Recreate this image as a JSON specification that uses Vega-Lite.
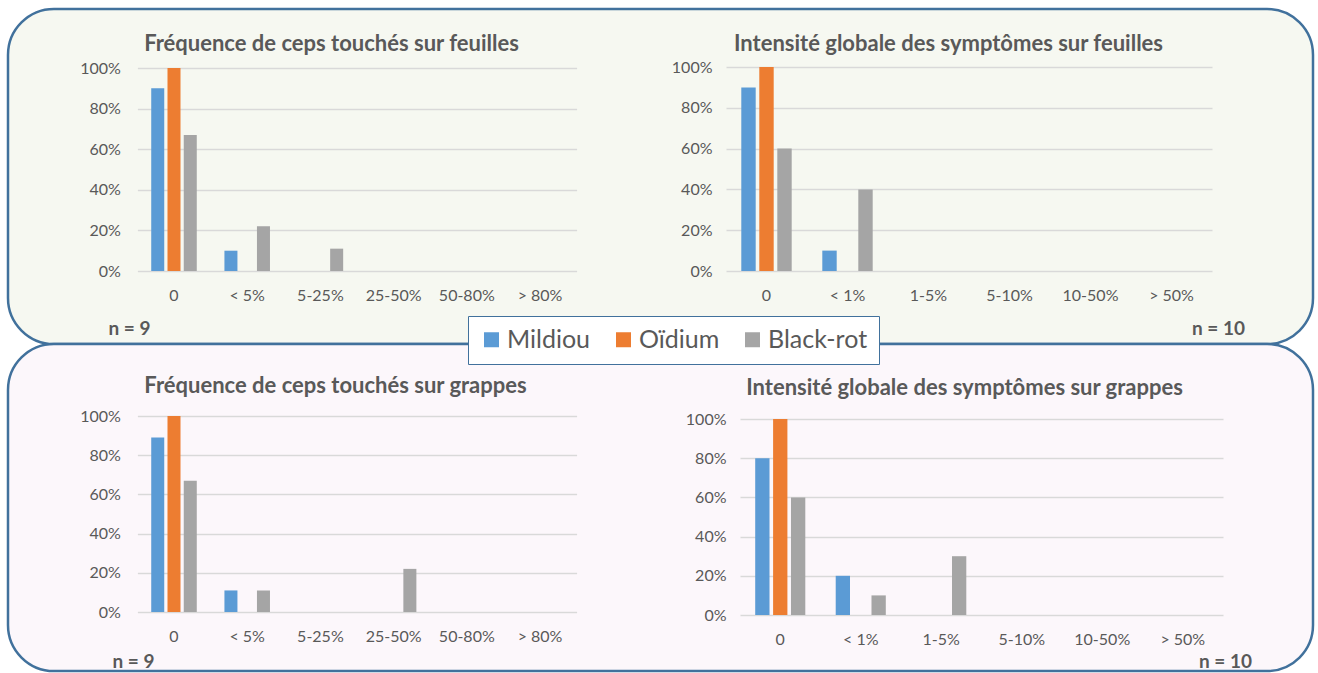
{
  "$schema": "https://vega.github.io/schema/vega-lite/v6.json",
  "background": "white",
  "padding": {"left": 6, "top": 7, "right": 4, "bottom": 0},
  "spacing": 0,
  "bounds": "flush",
  "config": {
    "font": "Lato",
    "axis": {"labelFont": "Lato", "labelColor": "#595959", "labelFontSize": 16, "titleFont": "Lato", "titleColor": "#595959", "ticks": false, "domain": false, "gridColor": "#D9D9D9", "gridWidth": 1.3},
    "bar": {"cornerRadius": 0}
  },
  "data": {"values": [
    {"panel": "p1", "cat": "0", "disease": "Mildiou", "value": 0.9},
    {"panel": "p1", "cat": "< 5%", "disease": "Mildiou", "value": 0.1},
    {"panel": "p1", "cat": "0", "disease": "Oïdium", "value": 1.0},
    {"panel": "p1", "cat": "0", "disease": "Black-rot", "value": 0.67},
    {"panel": "p1", "cat": "< 5%", "disease": "Black-rot", "value": 0.22},
    {"panel": "p1", "cat": "5-25%", "disease": "Black-rot", "value": 0.11},
    {"panel": "p2", "cat": "0", "disease": "Mildiou", "value": 0.9},
    {"panel": "p2", "cat": "< 1%", "disease": "Mildiou", "value": 0.1},
    {"panel": "p2", "cat": "0", "disease": "Oïdium", "value": 1.0},
    {"panel": "p2", "cat": "0", "disease": "Black-rot", "value": 0.6},
    {"panel": "p2", "cat": "< 1%", "disease": "Black-rot", "value": 0.4},
    {"panel": "p3", "cat": "0", "disease": "Mildiou", "value": 0.89},
    {"panel": "p3", "cat": "< 5%", "disease": "Mildiou", "value": 0.11},
    {"panel": "p3", "cat": "0", "disease": "Oïdium", "value": 1.0},
    {"panel": "p3", "cat": "0", "disease": "Black-rot", "value": 0.67},
    {"panel": "p3", "cat": "< 5%", "disease": "Black-rot", "value": 0.11},
    {"panel": "p3", "cat": "25-50%", "disease": "Black-rot", "value": 0.22},
    {"panel": "p4", "cat": "0", "disease": "Mildiou", "value": 0.8},
    {"panel": "p4", "cat": "< 1%", "disease": "Mildiou", "value": 0.2},
    {"panel": "p4", "cat": "0", "disease": "Oïdium", "value": 1.0},
    {"panel": "p4", "cat": "0", "disease": "Black-rot", "value": 0.6},
    {"panel": "p4", "cat": "< 1%", "disease": "Black-rot", "value": 0.1},
    {"panel": "p4", "cat": "1-5%", "disease": "Black-rot", "value": 0.3}
  ]},
  "vconcat": [
    {
      "width": 1305,
      "height": 335,
      "view": {"fill": "#F6F8F1", "stroke": "#41719C", "strokeWidth": 2.5, "cornerRadius": 46},
      "resolve": {"scale": {"x": "independent", "y": "independent", "xOffset": "independent"}, "axis": {"x": "independent", "y": "independent"}},
      "layer": [
        {
          "transform": [{"filter": "datum.panel == 'p1'"}],
          "mark": {"type": "bar"},
          "encoding": {
            "x": {"field": "cat", "type": "nominal", "sort": null,
              "scale": {"domain": ["0", "< 5%", "5-25%", "25-50%", "50-80%", "> 80%"], "range": [129.4, 568.6], "paddingInner": 0, "paddingOuter": 0},
              "axis": {"orient": "bottom", "offset": -73, "labelAngle": 0, "labelPadding": 16, "grid": false, "title": "n = 9", "titleX": 121, "titleY": 57, "titleAngle": 0, "titleAlign": "center", "titleBaseline": "middle", "titleFontSize": 19, "titleFontWeight": "bold"}},
            "xOffset": {"field": "disease", "type": "nominal", "scale": {"domain": ["Mildiou", "Oïdium", "Black-rot"], "paddingInner": 0.2, "paddingOuter": 0.85}},
            "y": {"field": "value", "type": "quantitative",
              "scale": {"domain": [0, 1], "range": [262, 59], "nice": false},
              "axis": {"orient": "left", "offset": -129.4, "format": ".0%", "values": [0, 0.2, 0.4, 0.6, 0.8, 1], "labelPadding": 17, "grid": true, "title": "Fréquence de ceps touchés sur feuilles", "titleX": 193.6, "titleY": 34, "titleAngle": 0, "titleAlign": "center", "titleBaseline": "middle", "titleFontSize": 22, "titleFontWeight": "bold"}},
            "color": {"field": "disease", "type": "nominal",
              "scale": {"domain": ["Mildiou", "Oïdium", "Black-rot"], "range": ["#5B9BD5", "#ED7D31", "#A5A5A5"]},
              "legend": {"orient": "none", "legendX": 460, "legendY": 307, "direction": "horizontal", "title": null, "symbolType": "square", "symbolSize": 225, "symbolStrokeWidth": 0, "symbolOpacity": 1, "labelFont": "Lato", "labelFontSize": 25, "labelColor": "#595959", "labelOffset": 3, "columnPadding": 20, "padding": 11, "fillColor": "white", "strokeColor": "#41719C", "labelLimit": 300}}
          }
        },
        {
          "transform": [{"filter": "datum.panel == 'p2'"}],
          "mark": {"type": "bar"},
          "encoding": {
            "x": {"field": "cat", "type": "nominal", "sort": null,
              "scale": {"domain": ["0", "< 1%", "1-5%", "5-10%", "10-50%", "> 50%"], "range": [718, 1204], "paddingInner": 0, "paddingOuter": 0},
              "axis": {"orient": "bottom", "offset": -73, "labelAngle": 0, "labelPadding": 16, "grid": false, "title": "n = 10", "titleX": 1210, "titleY": 57, "titleAngle": 0, "titleAlign": "center", "titleBaseline": "middle", "titleFontSize": 19, "titleFontWeight": "bold"}},
            "xOffset": {"field": "disease", "type": "nominal", "scale": {"domain": ["Mildiou", "Oïdium", "Black-rot"], "paddingInner": 0.2, "paddingOuter": 0.85}},
            "y": {"field": "value", "type": "quantitative",
              "scale": {"domain": [0, 1], "range": [262, 58], "nice": false},
              "axis": {"orient": "left", "offset": -718, "format": ".0%", "values": [0, 0.2, 0.4, 0.6, 0.8, 1], "labelPadding": 14, "grid": true, "title": "Intensité globale des symptômes sur feuilles", "titleX": 222, "titleY": 34, "titleAngle": 0, "titleAlign": "center", "titleBaseline": "middle", "titleFontSize": 22, "titleFontWeight": "bold"}},
            "color": {"field": "disease", "type": "nominal"}
          }
        }
      ]
    },
    {
      "width": 1305,
      "height": 327,
      "view": {"fill": "#FCF7FB", "stroke": "#41719C", "strokeWidth": 2.5, "cornerRadius": 46},
      "resolve": {"scale": {"x": "independent", "y": "independent", "xOffset": "independent"}, "axis": {"x": "independent", "y": "independent"}},
      "layer": [
        {
          "transform": [{"filter": "datum.panel == 'p3'"}],
          "mark": {"type": "bar"},
          "encoding": {
            "x": {"field": "cat", "type": "nominal", "sort": null,
              "scale": {"domain": ["0", "< 5%", "5-25%", "25-50%", "50-80%", "> 80%"], "range": [129.4, 568.6], "paddingInner": 0, "paddingOuter": 0},
              "axis": {"orient": "bottom", "offset": -59, "labelAngle": 0, "labelPadding": 16, "grid": false, "title": "n = 9", "titleX": 125, "titleY": 49, "titleAngle": 0, "titleAlign": "center", "titleBaseline": "middle", "titleFontSize": 19, "titleFontWeight": "bold"}},
            "xOffset": {"field": "disease", "type": "nominal", "scale": {"domain": ["Mildiou", "Oïdium", "Black-rot"], "paddingInner": 0.2, "paddingOuter": 0.85}},
            "y": {"field": "value", "type": "quantitative",
              "scale": {"domain": [0, 1], "range": [268, 72], "nice": false},
              "axis": {"orient": "left", "offset": -129.4, "format": ".0%", "values": [0, 0.2, 0.4, 0.6, 0.8, 1], "labelPadding": 17, "grid": true, "title": "Fréquence de ceps touchés sur grappes", "titleX": 197.6, "titleY": 41, "titleAngle": 0, "titleAlign": "center", "titleBaseline": "middle", "titleFontSize": 22, "titleFontWeight": "bold"}},
            "color": {"field": "disease", "type": "nominal"}
          }
        },
        {
          "transform": [{"filter": "datum.panel == 'p4'"}],
          "mark": {"type": "bar"},
          "encoding": {
            "x": {"field": "cat", "type": "nominal", "sort": null,
              "scale": {"domain": ["0", "< 1%", "1-5%", "5-10%", "10-50%", "> 50%"], "range": [732, 1215], "paddingInner": 0, "paddingOuter": 0},
              "axis": {"orient": "bottom", "offset": -56, "labelAngle": 0, "labelPadding": 16, "grid": false, "title": "n = 10", "titleX": 1217, "titleY": 46, "titleAngle": 0, "titleAlign": "center", "titleBaseline": "middle", "titleFontSize": 19, "titleFontWeight": "bold"}},
            "xOffset": {"field": "disease", "type": "nominal", "scale": {"domain": ["Mildiou", "Oïdium", "Black-rot"], "paddingInner": 0.2, "paddingOuter": 0.85}},
            "y": {"field": "value", "type": "quantitative",
              "scale": {"domain": [0, 1], "range": [271, 75], "nice": false},
              "axis": {"orient": "left", "offset": -732, "format": ".0%", "values": [0, 0.2, 0.4, 0.6, 0.8, 1], "labelPadding": 14, "grid": true, "title": "Intensité globale des symptômes sur grappes", "titleX": 224, "titleY": 43, "titleAngle": 0, "titleAlign": "center", "titleBaseline": "middle", "titleFontSize": 22, "titleFontWeight": "bold"}},
            "color": {"field": "disease", "type": "nominal"}
          }
        }
      ]
    }
  ]
}
